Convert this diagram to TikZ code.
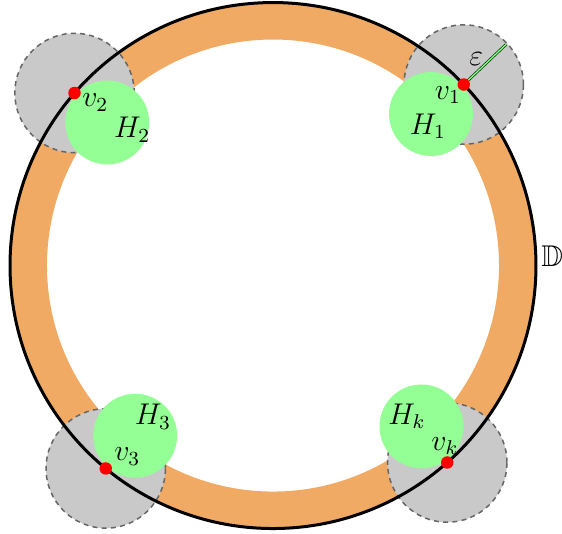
\documentclass[tikz,border=0pt]{standalone}
\usepackage{amssymb}
\definecolor{ringorange}{RGB}{240,170,100}
\begin{document}
\begin{tikzpicture}[
  every node/.style={font=\large},
  nbhd/.style={fill=gray!42, draw=black!60, line width=0.6pt, dash pattern=on 2pt off 1.7pt},
  hdisk/.style={fill=green!42},
  redpt/.style={circle, fill=red, inner sep=0pt, minimum size=5pt},
]
\useasboundingbox (-3.841,-3.764) rectangle (4.066,3.736);

% orange ring
\fill[ringorange, even odd rule] (0,0) circle (3.7) (0,0) circle (3.18);

% eps-neighbourhoods and the disks H_i
\foreach \a/\n in {43.5/1, 139/2, 230.5/3, 311.5/k} {
  \coordinate (v\n) at (\a:3.7);
  \draw[nbhd] (v\n) circle (0.84);
}
\foreach \a/\n in {43.8/1, 139.2/2, 231/3, 312.7/k} {
  \fill[hdisk] (\a:3.08) circle (0.59);
}

\draw[line width=1.2pt] (0,0) circle (3.7);
\node[right, inner sep=2pt] (D) at (3.70,0.13) {$\mathbb{D}$};

% radius eps
\coordinate (e1) at (43.5:4.52);
\draw[draw=green!25!black, double=green!45, double distance=0.5pt, line width=0.3pt] (v1) -- (e1);
\node (eps) at (2.86,2.91) {$\varepsilon$};

\foreach \n in {1,2,3,k} {
  \node[redpt] (p\n) at (v\n) {};
}

\node (lv1) at (2.46,2.40) {$v_1$};
\node (lH1) at (2.18,1.96) {$H_1$};
\node (lv2) at (-2.50,2.29) {$v_2$};
\node (lH2) at (-1.98,1.91) {$H_2$};
\node (lv3) at (-2.05,-2.69) {$v_3$};
\node (lH3) at (-1.69,-2.13) {$H_3$};
\node (lvk) at (2.42,-2.54) {$v_k$};
\node (lHk) at (1.885,-2.12) {$H_k$};
\end{tikzpicture}
\end{document}
